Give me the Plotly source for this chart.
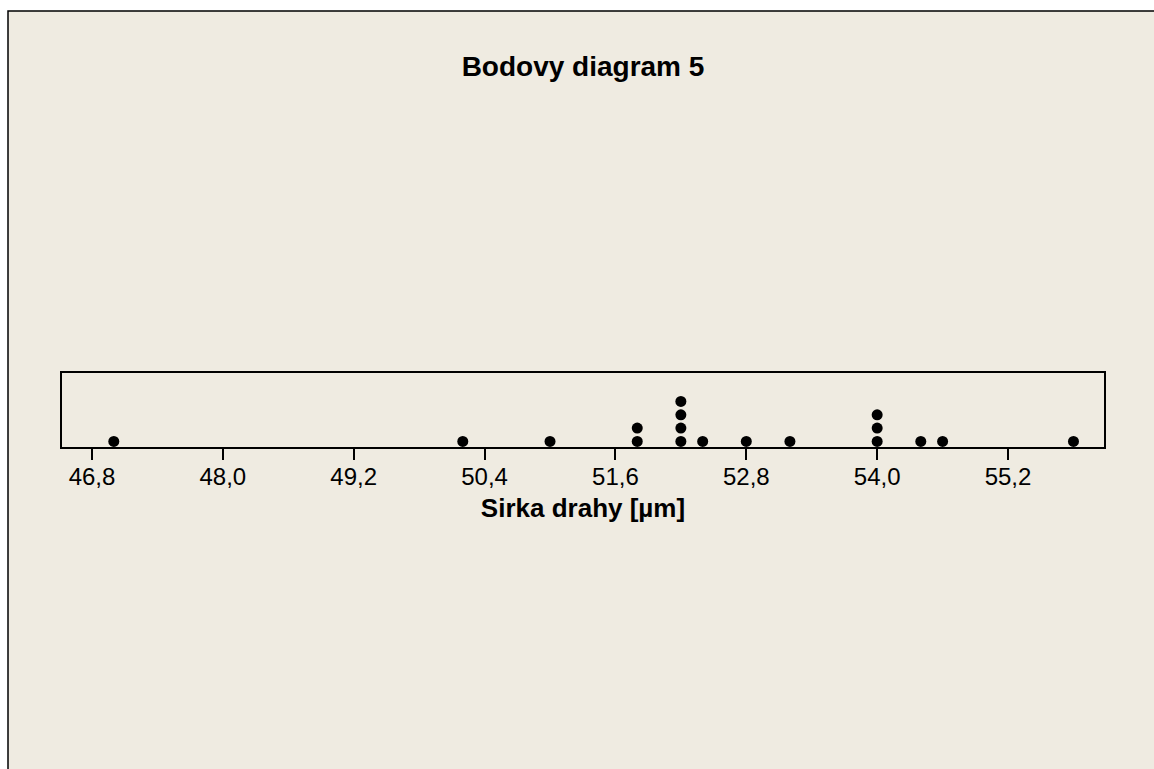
import plotly.graph_objects as go
from collections import Counter

# Data (one entry per dot)
widths = [47.0, 50.2, 51.0, 51.8, 51.8, 52.2, 52.2, 52.2, 52.2, 52.4,
          52.8, 53.2, 54.0, 54.0, 54.0, 54.4, 54.6, 55.8]
tick_vals = [46.8, 48.0, 49.2, 50.4, 51.6, 52.8, 54.0, 55.2]
tick_text = ["46,8", "48,0", "49,2", "50,4", "51,6", "52,8", "54,0", "55,2"]
title_text = "Bodovy diagram 5"
xlabel_text = "Sirka drahy [µm]"

# stack dots
seen = Counter()
xs, ys = [], []
for v in widths:
    seen[v] += 1
    xs.append(v)
    ys.append(seen[v])

BEIGE = "#EFEBE1"
W, H = 1154, 769
L, R, T, B = 62, 50, 373, 322
pw = W - L - R
ph = H - T - B

fig = go.Figure()
fig.add_trace(go.Scatter(
    x=xs, y=ys, mode="markers",
    marker=dict(symbol="circle", size=11, color="black", line=dict(width=0)),
    hoverinfo="x", showlegend=False,
))

# beige panel with black top/left border (extends past the right/bottom edges)
fig.add_shape(type="rect", xref="paper", yref="paper",
              x0=(8 - L) / pw, x1=(W + 20 - L) / pw,
              y0=(H - B - (H + 20)) / ph, y1=(H - B - 11) / ph,
              fillcolor=BEIGE, line=dict(color="black", width=1.5), layer="below")

fig.update_layout(
    width=W, height=H,
    margin=dict(l=L, r=R, t=T, b=B),
    paper_bgcolor="white",
    plot_bgcolor="white",
    separators=",.",
    font=dict(family="Liberation Sans, Arial, sans-serif", color="black"),
    title=dict(text="<b>" + title_text + "</b>", x=(W - R + L) / 2 / W, xanchor="center",
               y=1 - 76 / H, yanchor="bottom", font=dict(size=28, color="black")),
    xaxis=dict(
        range=[46.525, 56.08],
        tickmode="array", tickvals=tick_vals, ticktext=tick_text,
        ticks="outside", ticklen=11, tickwidth=2, tickcolor="black",
        ticklabelstandoff=-4,
        showline=True, linecolor="black", linewidth=2, mirror=True,
        showgrid=False, zeroline=False,
        tickfont=dict(size=24, color="black"),
        title=dict(text="<b>" + xlabel_text + "</b>", font=dict(size=26, color="black"),
                   standoff=10),
    ),
    yaxis=dict(
        range=[0.58, 6.14],
        showticklabels=False, ticks="",
        showline=True, linecolor="black", linewidth=2, mirror=True,
        showgrid=False, zeroline=False,
    ),
)

fig.write_html("out.html")
